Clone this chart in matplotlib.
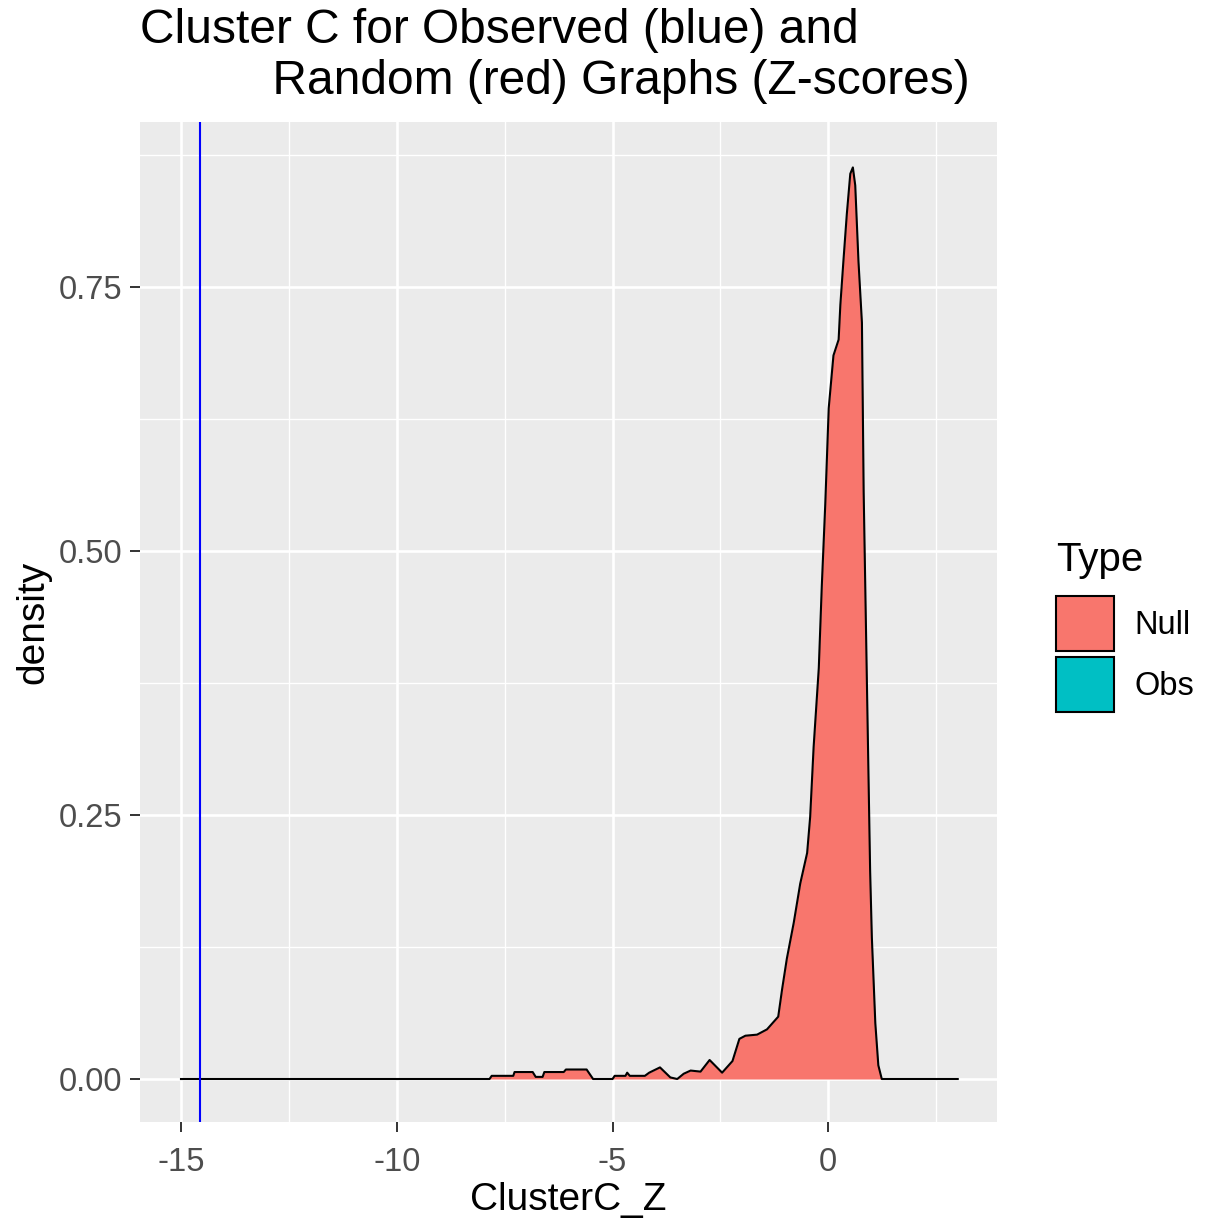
import matplotlib
matplotlib.use('Agg')
import matplotlib.pyplot as plt
from matplotlib.patches import Patch
from matplotlib.ticker import MultipleLocator

plt.rcParams['font.family'] = ['Liberation Sans', 'DejaVu Sans']
plt.rcParams['axes.unicode_minus'] = False

# density of the null (random graph) Z-scores
null_z = [-15.0, -7.85, -7.80, -7.30, -7.27, -6.85, -6.78, -6.62, -6.58, -6.13,
          -6.08, -5.60, -5.45, -5.00, -4.95, -4.70, -4.66, -4.60, -4.25, -4.15,
          -3.90, -3.66, -3.50, -3.35, -3.19, -2.96, -2.75, -2.46, -2.22, -2.06,
          -1.92, -1.65, -1.42, -1.16, -1.07, -0.96, -0.80, -0.65, -0.49, -0.42,
          -0.34, -0.22, -0.15, -0.07, 0.01, 0.12, 0.24, 0.28, 0.35, 0.43,
          0.51, 0.57, 0.625, 0.70, 0.78, 0.82, 0.90, 0.97, 1.01, 1.09,
          1.16, 1.24, 3.0]
null_density = [0.0, 0.0, 0.003, 0.003, 0.0066, 0.0066, 0.002, 0.002, 0.0066, 0.0066,
                0.009, 0.009, 0.0, 0.0, 0.003, 0.003, 0.006, 0.003, 0.003, 0.006,
                0.011, 0.0015, 0.0, 0.005, 0.008, 0.007, 0.018, 0.006, 0.017, 0.038,
                0.041, 0.042, 0.047, 0.059, 0.085, 0.114, 0.148, 0.185, 0.214, 0.248,
                0.314, 0.389, 0.467, 0.544, 0.635, 0.685, 0.700, 0.733, 0.774, 0.819,
                0.857, 0.863, 0.846, 0.774, 0.716, 0.556, 0.364, 0.197, 0.134, 0.053,
                0.013, 0.0, 0.0]
obs_z = -14.56

type_names = ['Null', 'Obs']
type_colors = ['#F8766D', '#00BFC4']

fig = plt.figure(figsize=(12.06, 12.24), dpi=100)
ax = fig.add_axes([140/1206, 1 - 1122/1224, (997 - 140)/1206, 1000/1224])

ax.set_facecolor('#EBEBEB')
for s in ax.spines.values():
    s.set_visible(False)

ax.xaxis.set_major_locator(MultipleLocator(5))
ax.xaxis.set_minor_locator(MultipleLocator(2.5))
ax.yaxis.set_major_locator(MultipleLocator(0.25))
ax.yaxis.set_minor_locator(MultipleLocator(0.125))
ax.grid(which='major', color='white', linewidth=1.9)
ax.grid(which='minor', color='white', linewidth=0.95)
ax.set_axisbelow(True)

ax.fill_between(null_z, 0, null_density, color=type_colors[0], linewidth=0)
ax.plot(null_z, null_density, color='black', linewidth=1.5)
ax.axvline(obs_z, color='#0000FF', linewidth=1.5)

ax.set_xlim(-15.95, 3.91)
ax.set_ylim(-0.0407, 0.906)
ax.set_xticks([-15, -10, -5, 0])
ax.set_yticks([0, 0.25, 0.5, 0.75])
ax.set_yticklabels(['0.00', '0.25', '0.50', '0.75'])
ax.tick_params(which='major', length=7, width=1.4, color='#333333',
               labelcolor='#4D4D4D', labelsize=23.5, pad=6)
ax.tick_params(axis='x', which='major', pad=11)
ax.tick_params(which='minor', length=0)

ax.set_xlabel('ClusterC_Z', fontsize=28, labelpad=3)
ax.set_ylabel('density', fontsize=28, labelpad=5)

fig.text(140/1206, 1 - 8/1224,
         'Cluster C for Observed (blue) and\n          Random (red) Graphs (Z-scores)',
         fontsize=34.5, ha='left', va='top', linespacing=1.17)

handles = [Patch(facecolor=c, edgecolor='black', linewidth=1.5) for c in type_colors]
leg = fig.legend(handles, type_names, title='Type', loc='upper left',
                 bbox_to_anchor=(1027/1206, 1 - 512/1224), frameon=False,
                 fontsize=23.5, title_fontsize=29, handlelength=1.78, handleheight=2.22,
                 labelspacing=0.19, handletextpad=0.6)
leg._legend_box.align = 'left'
leg._legend_box.sep = 12

fig.savefig('out.png', dpi=100)
